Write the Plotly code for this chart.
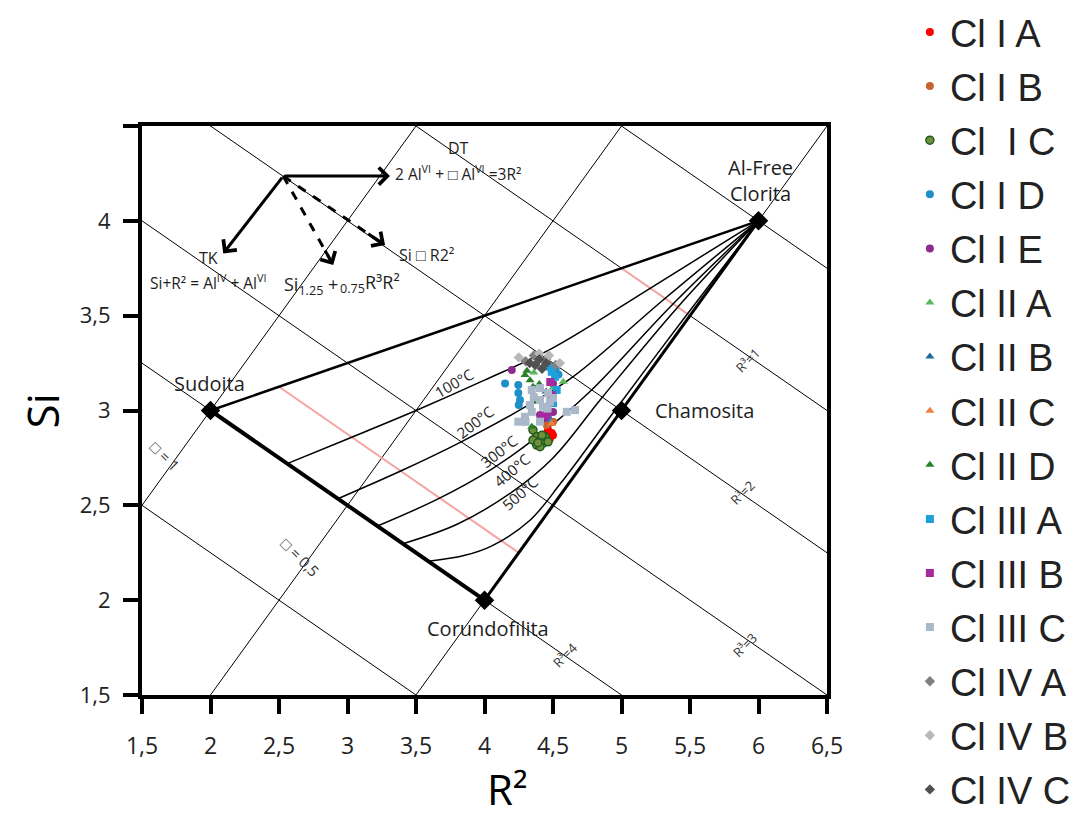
import numpy as np
import plotly.graph_objects as go

# ---------------- axes ----------------
x_range = [1.5, 6.5]
y_range = [1.5, 4.5]
x_ticks = [1.5, 2, 2.5, 3, 3.5, 4, 4.5, 5, 5.5, 6, 6.5]
x_tick_text = ["1,5", "2", "2,5", "3", "3,5", "4", "4,5", "5", "5,5", "6", "6,5"]
y_ticks = [1.5, 2, 2.5, 3, 3.5, 4, 4.5]
y_tick_text = ["1,5", "2", "2,5", "3", "3,5", "4", ""]

# ---------------- end members ----------------
vertex_names = ["Sudoita", "Corundofilita", "Chamosita", "Al-Free<br>Clorita"]
vertex_r2 = [2.0, 4.0, 5.0, 6.0]
vertex_si = [3.0, 2.0, 3.0, 4.0]

# ---------------- reference line families ----------------
# R3 lines: Si + R2/2 = 7 - 0.75*R3
r3_levels = [0, 1, 2, 3, 4, 5]
# vacancy lines: Si = R2 - 2 + 3*vac
vac_levels = [0, 0.5, 1]
# highlighted R3 segments inside the field
red_r3_levels = [1, 3.5]

# ---------------- isotherms ----------------
iso_labels = ["100°C", "200°C", "300°C", "400°C", "500°C"]
iso_r2 = [
    [2.56, 3.0, 3.5, 4.0, 4.5, 5.2, 6.0],
    [2.93, 3.4, 3.83, 4.3, 4.65, 5.3, 6.0],
    [3.215, 3.65, 4.05, 4.4, 4.77, 5.36, 6.0],
    [3.405, 3.8, 4.2, 4.5, 4.86, 5.41, 6.0],
    [3.59, 3.85, 4.05, 4.33, 4.56, 4.9, 5.45, 6.0],
]
iso_si = [
    [2.72, 2.85, 3.0, 3.16, 3.33, 3.64, 4.0],
    [2.535, 2.685, 2.835, 3.02, 3.18, 3.58, 4.0],
    [2.39, 2.53, 2.69, 2.87, 3.10, 3.55, 4.0],
    [2.2975, 2.40, 2.57, 2.75, 3.07, 3.545, 4.0],
    [2.205, 2.235, 2.285, 2.42, 2.62, 2.95, 3.48, 4.0],
]
iso_label_r2 = [3.777, 3.931, 4.108, 4.199, 4.259]
iso_label_si = [3.146, 2.941, 2.786, 2.686, 2.565]
iso_label_angle = [-30, -38, -38, -40, -42]

# ---------------- samples ----------------
series_names = ["Cl I A", "Cl I B", "Cl  I C", "Cl I D", "Cl I E",
                "Cl II A", "Cl II B", "Cl II C", "Cl II D",
                "Cl III A", "Cl III B", "Cl III C",
                "Cl IV A", "Cl IV B", "Cl IV C"]
series_symbols = ["circle", "circle", "circle", "circle", "circle",
                  "triangle-up", "triangle-up", "triangle-up", "triangle-up",
                  "square", "square", "square",
                  "diamond", "diamond", "diamond"]
series_colors = ["#ff0000", "#c8642d", "#6f8f3a", "#1f8fc8", "#8e2c8e",
                 "#5cb85c", "#1f6a9a", "#f07f3c", "#2a7f2a",
                 "#1fa0dc", "#a52aa0", "#a9b9c9",
                 "#808080", "#b8b8b8", "#505050"]
series_line_colors = [None, None, "#1e5c1e", None, None,
                      None, None, None, None,
                      None, None, None,
                      None, None, None]

cl_I_A_r2 = [4.464, 4.491, 4.478, 4.454, 4.50]
cl_I_A_si = [2.897, 2.881, 2.853, 2.862, 2.87]
cl_I_B_r2 = [4.454, 4.50, 4.44]
cl_I_B_si = [2.923, 2.941, 2.95]
cl_I_C_r2 = [4.354, 4.381, 4.405, 4.427, 4.381, 4.442, 4.354, 4.405, 4.464, 4.42, 4.39]
cl_I_C_si = [2.897, 2.862, 2.844, 2.828, 2.818, 2.862, 2.844, 2.809, 2.835, 2.87, 2.83]
cl_I_D_r2 = [4.150, 4.247, 4.247, 4.259, 4.25, 4.464, 4.54, 4.52]
cl_I_D_si = [3.143, 3.134, 3.092, 3.055, 3.029, 2.960, 3.19, 3.22]
cl_I_E_r2 = [4.199, 4.50, 4.405, 4.50, 4.44]
cl_I_E_si = [3.213, 3.143, 2.976, 2.992, 2.96]
cl_II_A_r2 = [4.575, 4.50, 4.36]
cl_II_A_si = [3.152, 3.118, 3.20]
cl_II_B_r2 = [4.38, 4.45]
cl_II_B_si = [3.06, 3.10]
cl_II_C_r2 = [4.464, 4.40, 4.49]
cl_II_C_si = [3.081, 3.05, 2.93]
cl_II_D_r2 = [4.296, 4.332, 4.354, 4.369, 4.345, 4.31, 4.40]
cl_II_D_si = [3.187, 3.160, 3.125, 3.046, 2.914, 3.21, 3.14]
cl_III_A_r2 = [4.491, 4.515, 4.527, 4.50, 4.48]
cl_III_A_si = [3.204, 3.178, 3.108, 3.039, 3.23]
cl_III_B_r2 = [4.454, 4.491, 4.48, 4.42]
cl_III_B_si = [2.976, 3.081, 3.15, 2.97]
cl_III_C_r2 = [4.345, 4.405, 4.464, 4.478, 4.427, 4.345, 4.296, 4.247, 4.405,
               4.661, 4.600, 4.332, 4.405, 4.50, 4.36, 4.46, 4.30]
cl_III_C_si = [3.108, 3.118, 3.092, 3.046, 3.020, 2.993, 2.967, 2.941, 2.941,
               3.002, 2.993, 3.029, 3.055, 3.066, 3.07, 3.01, 2.94]
cl_IV_A_r2 = [4.30, 4.52, 4.36, 4.45]
cl_IV_A_si = [3.26, 3.24, 3.29, 3.27]
cl_IV_B_r2 = [4.25, 4.47, 4.55, 4.40]
cl_IV_B_si = [3.28, 3.29, 3.25, 3.30]
cl_IV_C_r2 = [4.37, 4.40, 4.45, 4.42, 4.33]
cl_IV_C_si = [3.24, 3.27, 3.25, 3.22, 3.25]

series_r2 = [cl_I_A_r2, cl_I_B_r2, cl_I_C_r2, cl_I_D_r2, cl_I_E_r2,
             cl_II_A_r2, cl_II_B_r2, cl_II_C_r2, cl_II_D_r2,
             cl_III_A_r2, cl_III_B_r2, cl_III_C_r2,
             cl_IV_A_r2, cl_IV_B_r2, cl_IV_C_r2]
series_si = [cl_I_A_si, cl_I_B_si, cl_I_C_si, cl_I_D_si, cl_I_E_si,
             cl_II_A_si, cl_II_B_si, cl_II_C_si, cl_II_D_si,
             cl_III_A_si, cl_III_B_si, cl_III_C_si,
             cl_IV_A_si, cl_IV_B_si, cl_IV_C_si]

FONT = "Open Sans"
TXT = "#1e1e1e"

fig = go.Figure()


def add_line(x, y, width=1, color="black", dash=None, shape="linear"):
    fig.add_trace(go.Scatter(x=x, y=y, mode="lines", showlegend=False, hoverinfo="skip",
                             line=dict(color=color, width=width, dash=dash, shape=shape)))


# thin reference lines (clipped by the plot area)
x_far = np.array([0.0, 8.0])
for r3 in r3_levels:
    c = 7 - 0.75 * r3
    add_line(x_far, c - x_far / 2, width=1)
for v in vac_levels:
    add_line(x_far, x_far - 2 + 3 * v, width=1)

# highlighted R3 segments between the upper edge and the vac = 0 edge
for r3 in red_r3_levels:
    c = 7 - 0.75 * r3
    xa = (c - 2.5) / 0.75          # on Sudoita - Al-Free edge
    xb = (c + 2) / 1.5             # on Corundofilita - Al-Free edge
    add_line([xa, xb], [c - xa / 2, c - xb / 2], width=2, color="#f5a3a3")

# isotherms
for xs, ys in zip(iso_r2, iso_si):
    add_line(xs, ys, width=1.5, shape="spline")

# field boundaries
S, C, Ch, A = 0, 1, 2, 3
add_line([vertex_r2[S], vertex_r2[A]], [vertex_si[S], vertex_si[A]], width=2.5)
add_line([vertex_r2[S], vertex_r2[C]], [vertex_si[S], vertex_si[C]], width=4)
add_line([vertex_r2[C], vertex_r2[A]], [vertex_si[C], vertex_si[A]], width=3)

# samples
for name, xs, ys, sym, col, lc in zip(series_names, series_r2, series_si,
                                      series_symbols, series_colors, series_line_colors):
    fig.add_trace(go.Scatter(
        x=xs, y=ys, mode="markers", name=name, legendgroup=name,
        marker=dict(symbol=sym, size=8, color=col,
                    line=dict(color=lc if lc else col, width=1.5 if lc else 0)),
    ))

# end-member markers
fig.add_trace(go.Scatter(x=vertex_r2, y=vertex_si, mode="markers", showlegend=False,
                         hoverinfo="skip",
                         marker=dict(symbol="diamond", size=15, color="black")))

ann = []
# end-member labels
vertex_label_r2 = [1.996, 4.026, 5.609, 6.011]
vertex_label_si = [3.145, 1.853, 3.002, 4.215]
for name, lx, ly in zip(vertex_names, vertex_label_r2, vertex_label_si):
    ann.append(dict(x=lx, y=ly, text=name, showarrow=False,
                    font=dict(family=FONT, size=20, color=TXT)))

# isotherm labels
for t, lx, ly, ang in zip(iso_labels, iso_label_r2, iso_label_si, iso_label_angle):
    ann.append(dict(x=lx, y=ly, text=t, showarrow=False, textangle=ang,
                    font=dict(family=FONT, size=15, color=TXT)))

# R3 labels
r3_label_text = ["R³=1", "R³=2", "R³=3", "R³=4"]
r3_label_r2 = [5.923, 5.88, 5.90, 4.588]
r3_label_si = [3.266, 2.565, 1.764, 1.711]
for t, lx, ly in zip(r3_label_text, r3_label_r2, r3_label_si):
    ann.append(dict(x=lx, y=ly, text=t, showarrow=False, textangle=-45,
                    font=dict(family=FONT, size=13, color="#333")))

# vacancy labels
vac_label_text = ["□ = 1", "□ = 0,5"]
vac_label_r2 = [1.668, 2.653]
vac_label_si = [2.76, 2.227]
for t, lx, ly in zip(vac_label_text, vac_label_r2, vac_label_si):
    ann.append(dict(x=lx, y=ly, text=t, showarrow=False, textangle=45,
                    font=dict(family=FONT, size=15, color="#333")))

# substitution vectors
vec_origin = (2.531, 4.236)
solid_heads = [(3.31, 4.236), (2.093, 3.828)]
dashed_heads = [(2.896, 3.767), (3.274, 3.872)]
for hx, hy in solid_heads:
    ann.append(dict(x=hx, y=hy, ax=vec_origin[0], ay=vec_origin[1], axref="x", ayref="y",
                    xref="x", yref="y", text="", showarrow=True, arrowhead=4,
                    arrowsize=1.1, arrowwidth=3, arrowcolor="black"))
for hx, hy in dashed_heads:
    add_line([vec_origin[0], hx], [vec_origin[1], hy], width=3, dash="dash")
    tx = hx - 0.18 * (hx - vec_origin[0])
    ty = hy - 0.18 * (hy - vec_origin[1])
    ann.append(dict(x=hx, y=hy, ax=tx, ay=ty, axref="x", ayref="y",
                    xref="x", yref="y", text="", showarrow=True, arrowhead=4,
                    arrowsize=1.1, arrowwidth=3, arrowcolor="black"))

vec_texts = [
    ("DT", 3.809, 4.382, "center", 16),
    ("2 Al<sup>VI</sup> + □ Al<sup>VI</sup> =3R²", 3.334, 4.250, "left", 15.5),
    ("TK", 1.984, 3.802, "center", 16),
    ("Si+R² = Al<sup>IV</sup> + Al<sup>VI</sup>", 1.546, 3.679, "left", 15.5),
    ("Si<sub>1.25</sub> +", 2.52, 3.661, "left", 18),
    ("<sub>0.75</sub>R³R²", 2.93, 3.672, "left", 18),
    ("Si □ R2²", 3.359, 3.819, "left", 16),
]
for t, lx, ly, anchor, fs in vec_texts:
    ann.append(dict(x=lx, y=ly, text=t, showarrow=False, xanchor=anchor,
                    font=dict(family=FONT, size=fs, color=TXT)))

# axis titles
ann.append(dict(xref="paper", yref="paper", x=-0.146, y=0.50, text="Si", textangle=-90,
                xanchor="center", yanchor="middle",
                showarrow=False, font=dict(family=FONT, size=44, color="black")))
ann.append(dict(xref="paper", yref="paper", x=0.534, y=-0.165, text="R²",
                xanchor="center", yanchor="middle",
                showarrow=False, font=dict(family=FONT, size=42, color="black")))

fig.update_layout(
    width=1077, height=820,
    margin=dict(l=142, r=250, t=126, b=125, autoexpand=False),
    plot_bgcolor="white", paper_bgcolor="white",
    separators=",.",
    annotations=ann,
    legend=dict(x=1.121, y=1.22, xanchor="left", yanchor="top",
                font=dict(family="Liberation Sans", size=38, color="#222"),
                tracegroupgap=1.7, maxheight=1000, bgcolor="rgba(0,0,0,0)"),
)
fig.update_xaxes(range=x_range, tickvals=x_ticks, ticktext=x_tick_text,
                 showgrid=False, zeroline=False, showline=True, linewidth=4,
                 linecolor="black", mirror=True, ticks="outside", ticklen=15,
                 tickwidth=4, tickcolor="black", ticklabelstandoff=12,
                 tickfont=dict(family=FONT, size=23, color="#222"))
fig.update_yaxes(range=y_range, tickvals=y_ticks, ticktext=y_tick_text,
                 showgrid=False, zeroline=False, showline=True, linewidth=4,
                 linecolor="black", mirror=True, ticks="outside", ticklen=15,
                 tickwidth=4, tickcolor="black", ticklabelstandoff=8,
                 tickfont=dict(family=FONT, size=22, color="#222"))

fig.write_html("out.html")
